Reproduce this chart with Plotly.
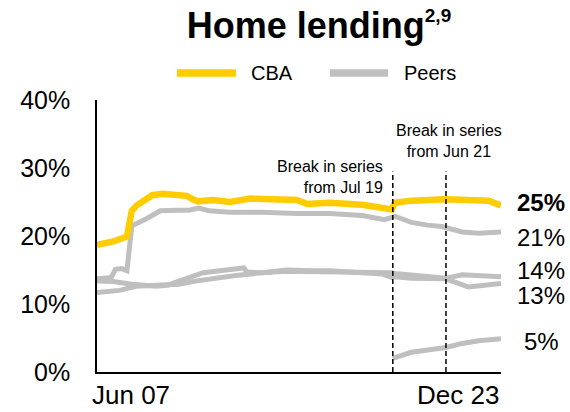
import plotly.graph_objects as go

# ---------------- data ----------------
cba_dates = ["2007-06-01", "2008-02-01", "2008-08-20", "2008-11-01", "2009-01-15", "2009-04-15",
             "2009-09-01", "2010-02-01", "2010-09-01", "2011-02-01", "2011-05-01", "2011-07-15",
             "2012-03-01", "2012-11-01", "2013-09-01", "2014-08-01", "2015-08-01", "2016-01-01",
             "2016-12-01", "2018-04-01", "2019-02-01", "2019-06-15", "2019-08-01", "2020-04-01",
             "2021-09-01", "2023-01-01", "2023-06-01", "2023-12-01"]
cba_vals = [18.7, 19.2, 19.9, 23.7, 24.5, 25.2,
            26.0, 26.2, 26.1, 25.9, 25.4, 25.1,
            25.3, 25.0, 25.5, 25.5, 25.3, 24.7,
            24.9, 24.6, 24.2, 23.9, 24.9, 25.2,
            25.4, 25.3, 25.2, 24.5]

peer1_dates = ["2007-06-01", "2008-01-01", "2008-03-01", "2008-06-01", "2008-08-20", "2008-11-01",
               "2009-06-01", "2010-01-01", "2010-10-01", "2011-03-01", "2011-08-01", "2012-01-01",
               "2012-11-01", "2014-03-01", "2015-08-01", "2016-12-01", "2018-04-01", "2019-03-01",
               "2019-08-01", "2020-04-01", "2020-12-01", "2021-07-01", "2022-05-01", "2023-01-01",
               "2023-12-01"]
peer1_vals = [13.7, 13.9, 15.1, 15.2, 14.9, 21.5,
              22.5, 23.7, 23.8, 23.8, 24.1, 23.7,
              23.5, 23.5, 23.3, 23.3, 23.0, 22.4,
              22.9, 22.0, 21.6, 21.4, 20.6, 20.4,
              20.6]

peer2_dates = ["2007-06-01", "2008-02-01", "2008-11-01", "2009-11-01", "2010-05-01", "2011-02-01",
               "2011-10-01", "2012-06-01", "2013-04-01", "2013-06-01", "2013-07-15", "2014-03-01",
               "2015-03-01", "2016-12-01", "2018-04-01", "2019-02-01", "2019-06-15", "2019-08-01",
               "2020-04-01", "2021-09-01", "2022-05-01", "2023-12-01"]
peer2_vals = [13.4, 13.3, 12.9, 12.6, 12.8, 13.7,
              14.6, 14.9, 15.1, 15.3, 14.7, 14.6,
              14.8, 14.7, 14.8, 14.6, 14.6, 14.5,
              14.3, 13.8, 14.3, 14.0]

peer3_dates = ["2007-06-01", "2008-05-01", "2009-01-01", "2009-11-01", "2010-10-01", "2011-07-01",
               "2012-03-01", "2013-02-01", "2014-03-01", "2015-03-01", "2016-04-01", "2016-12-01",
               "2018-04-01", "2019-02-01", "2019-06-15", "2019-08-01", "2020-04-01", "2021-09-01",
               "2022-08-01", "2023-06-01", "2023-12-01"]
peer3_vals = [11.7, 12.0, 12.6, 12.7, 12.9, 13.4,
              13.8, 14.2, 14.6, 15.0, 14.9, 14.9,
              14.6, 14.4, 13.9, 14.0, 13.8, 13.7,
              12.5, 12.9, 13.0]

peer4_dates = ["2019-07-01", "2020-04-01", "2021-09-01", "2022-05-01", "2023-01-01", "2023-12-01"]
peer4_vals = [2.0, 2.9, 3.6, 4.2, 4.6, 4.9]

x_start, x_end = "2007-06-01", "2023-12-01"
x_tick_labels = ["Jun 07", "Dec 23"]
y_ticks = [0, 10, 20, 30, 40]
y_tick_labels = ["0%", "10%", "20%", "30%", "40%"]

break_dates = ["2019-07-01", "2021-09-01"]
break_texts = ["Break in series<br>from Jul 19", "Break in series<br>from Jun 21"]

end_labels = ["25%", "21%", "14%", "13%", "5%"]
end_label_y = [24.9, 19.8, 14.9, 11.3, 4.5]

title_text = "Home lending"
title_sup = "2,9"
legend_names = ["CBA", "Peers"]

# ---------------- style ----------------
YELLOW = "#FFCC00"
GREY = "#BFBFBF"
FONT = "Liberation Sans, Arial, sans-serif"

fig = go.Figure()
for d, v in [(peer1_dates, peer1_vals), (peer2_dates, peer2_vals),
             (peer3_dates, peer3_vals), (peer4_dates, peer4_vals)]:
    fig.add_trace(go.Scatter(x=d, y=v, mode="lines", line=dict(color=GREY, width=5),
                             showlegend=False, hoverinfo="skip"))
fig.add_trace(go.Scatter(x=cba_dates, y=cba_vals, mode="lines", line=dict(color=YELLOW, width=6.5),
                         showlegend=False, hoverinfo="skip"))

W, H = 570, 412
L, R, T, B = 97, 69, 100, 40
pw, ph = W - L - R, H - T - B

def px(x):
    return (x - L) / pw

def py(y):
    return (H - B - y) / ph

fig.update_layout(
    width=W, height=H,
    margin=dict(l=L, r=R, t=T, b=B, autoexpand=False),
    plot_bgcolor="white", paper_bgcolor="white",
    font=dict(family=FONT, color="black"),
    title=dict(text=f"<b>{title_text}<sup><span style='font-size:19px'>{title_sup}</span></sup></b>",
               font=dict(size=36, family=FONT, color="black"),
               x=319 / W, xanchor="center", xref="container",
               y=1 - 25 / H, yanchor="middle", yref="container"),
    showlegend=False,
)
fig.update_xaxes(type="date", range=[x_start, x_end], showticklabels=False, ticks="",
                 showgrid=False, zeroline=False, showline=True, linecolor="black", linewidth=2)
fig.update_yaxes(range=[0, 40], tickmode="array", tickvals=y_ticks, ticktext=y_tick_labels,
                 ticks="outside", ticklen=20, tickcolor="rgba(0,0,0,0)",
                 showgrid=False, zeroline=False, showline=True, linecolor="black", linewidth=1.5,
                 tickfont=dict(size=25, family=FONT, color="black"))

# break lines
for bd in break_dates:
    fig.add_shape(type="line", xref="x", yref="y", x0=bd, x1=bd, y0=0, y1=29.5,
                  line=dict(color="black", width=1.5, dash="5px,3px"))
fig.add_annotation(x=break_dates[0], y=28.7, xref="x", yref="y", text=break_texts[0],
                   xanchor="right", yanchor="middle", align="right", xshift=-8,
                   showarrow=False, font=dict(size=16, family=FONT, color="black"))
fig.add_annotation(x=break_dates[1], y=33.9, xref="x", yref="y", text=break_texts[1],
                   xanchor="center", yanchor="middle", align="center", xshift=3,
                   showarrow=False, font=dict(size=16, family=FONT, color="black"))

# end labels
for i, (lab, yv) in enumerate(zip(end_labels, end_label_y)):
    txt = f"<b>{lab}</b>" if i == 0 else lab
    fig.add_annotation(x=x_end, y=yv, xref="x", yref="y", text=txt, xanchor="center",
                       yanchor="middle", xshift=40, showarrow=False,
                       font=dict(size=24, family=FONT, color="black"))

# x tick labels
fig.add_annotation(x=x_start, y=0, xref="x", yref="y", text=x_tick_labels[0], xanchor="left",
                   yanchor="top", xshift=-7, yshift=-6, showarrow=False,
                   font=dict(size=26, family=FONT, color="black"))
fig.add_annotation(x=x_end, y=0, xref="x", yref="y", text=x_tick_labels[1], xanchor="right",
                   yanchor="top", xshift=0, yshift=-6, showarrow=False,
                   font=dict(size=26, family=FONT, color="black"))

# legend (manual)
leg_y = 73
for (x0, x1, tx), name, col in zip([(177, 236, 249), (330, 388, 402)], legend_names, [YELLOW, GREY]):
    fig.add_shape(type="line", xref="paper", yref="paper", x0=px(x0), x1=px(x1),
                  y0=py(leg_y), y1=py(leg_y), line=dict(color=col, width=7.5))
    fig.add_annotation(x=px(tx), y=py(leg_y), xref="paper", yref="paper", text=name,
                       xanchor="left", yanchor="middle", showarrow=False,
                       font=dict(size=20, family=FONT, color="black"))

fig.write_html("out.html", config={"displayModeBar": False},
               post_script="document.body.style.margin='0px';")
